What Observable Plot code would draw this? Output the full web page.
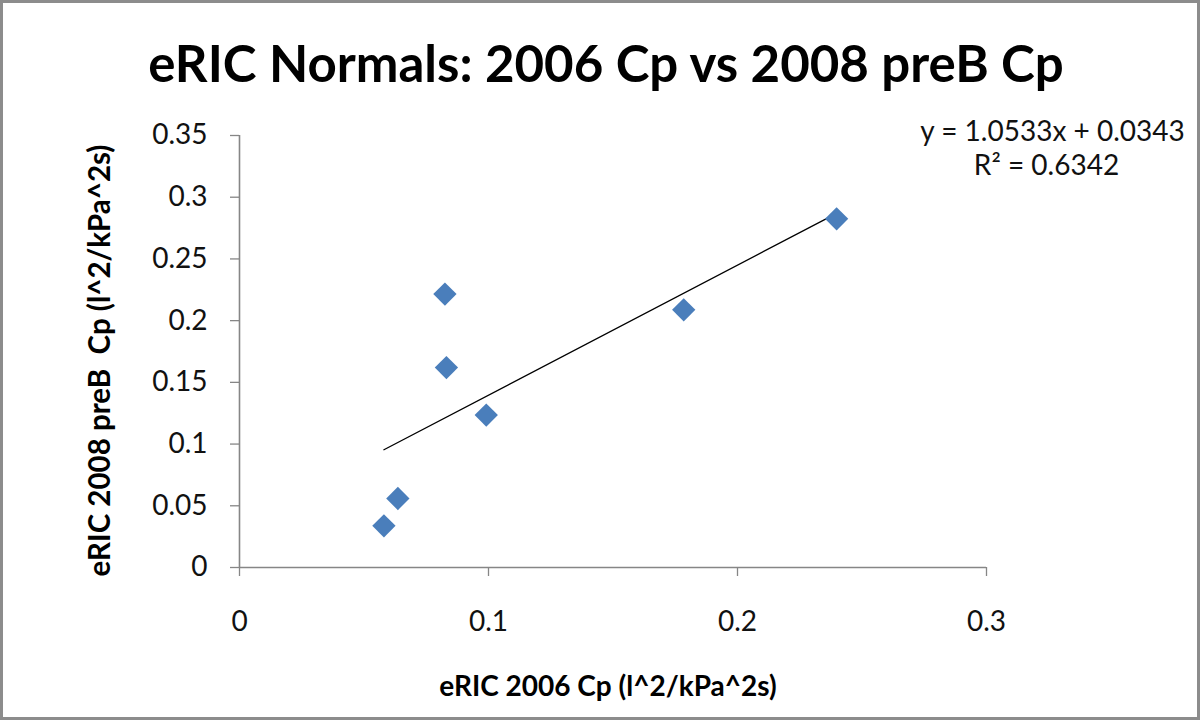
<!DOCTYPE html>
<html>
<head>
<meta charset="utf-8">
<script src="https://cdn.jsdelivr.net/npm/d3@7"></script>
<script src="https://cdn.jsdelivr.net/npm/@observablehq/plot@0.6"></script>
<style>
  html, body { margin: 0; padding: 0; background: #fff; }
  #wrap { position: relative; width: 1200px; height: 720px; overflow: hidden; }
  #border { position: absolute; left: 0; top: 0; width: 1200px; height: 720px; box-sizing: border-box; border: 3px solid #8c8c8c; pointer-events: none; }
</style>
</head>
<body>
<div id="wrap"><div id="chart"></div><div id="border"></div></div>
<script>
// ---- data ----
const cp2006 = [0.0580, 0.0636, 0.0825, 0.0831, 0.0991, 0.1784, 0.2398];
const cp2008preB = [0.0338, 0.0559, 0.2215, 0.1620, 0.1235, 0.2088, 0.2825];
const xTicks = [0, 0.1, 0.2, 0.3];
const yTicks = [0, 0.05, 0.1, 0.15, 0.2, 0.25, 0.3, 0.35];
const slope = 1.0533;
const intercept = 0.0343;
const rSquared = 0.6342;
const titleText = "eRIC Normals: 2006 Cp vs 2008 preB Cp";
const xLabel = "eRIC 2006 Cp (l^2/kPa^2s)";
const yLabel = "eRIC 2008 preB  Cp (l^2/kPa^2s)";

const points = cp2006.map((x, i) => ({x, y: cp2008preB[i]}));
const xMin = d3.min(cp2006), xMax = d3.max(cp2006);
const trend = [xMin, xMax].map(x => ({x, y: slope * x + intercept}));
const eqLine1 = `y = ${slope.toFixed(4)}x + ${intercept.toFixed(4)}`;
const eqLine2 = `R\u00B2 = ${rSquared.toFixed(4)}`;

const font = "Lato, 'Open Sans', sans-serif";
const axisGray = "#868686";

const chart = Plot.plot({
  width: 1200,
  height: 720,
  marginLeft: 239,
  marginRight: 214,
  marginTop: 135,
  marginBottom: 153,
  style: {fontFamily: font, background: "transparent", overflow: "visible"},
  x: {domain: [0, 0.3]},
  y: {domain: [0, 0.35]},
  marks: [
    Plot.axisY({ticks: yTicks, tickSize: 9, tickPadding: 23, label: null,
      tickFormat: d => String(d), stroke: axisGray, fill: "#111", fontSize: 28, strokeWidth: 1.3}),
    Plot.axisX({ticks: xTicks, tickSize: 9, tickPadding: 35, label: null,
      tickFormat: d => String(d), stroke: axisGray, fill: "#111", fontSize: 28, strokeWidth: 1.3}),
    Plot.ruleX([0], {stroke: axisGray, strokeWidth: 1.6}),
    Plot.ruleY([0], {stroke: axisGray, strokeWidth: 1.6}),
    Plot.line(trend, {x: "x", y: "y", stroke: "#000", strokeWidth: 1.3}),
    Plot.dot(points, {x: "x", y: "y", symbol: "diamond2", r: 10.5, fill: "#4A7EBB", stroke: "none"}),
    Plot.text([titleText], {frameAnchor: "top", dx: -7, dy: -70, lineAnchor: "middle",
      fontSize: 51, fontWeight: "bold", fill: "#000"}),
    Plot.text([xLabel], {frameAnchor: "bottom", dx: -5, dy: 120, lineAnchor: "middle",
      fontSize: 28, fontWeight: "bold", fill: "#000"}),
    Plot.text([yLabel], {frameAnchor: "left", textAnchor: "middle", dx: -139, dy: 9, rotate: -90, lineAnchor: "middle",
      fontSize: 29.5, fontWeight: "bold", fill: "#000"}),
    Plot.text([eqLine1], {frameAnchor: "top-right", dx: 66, dy: -3, lineAnchor: "middle", textAnchor: "middle",
      fontSize: 28, fill: "#111"}),
    Plot.text([eqLine2], {frameAnchor: "top-right", dx: 60, dy: 31, lineAnchor: "middle", textAnchor: "middle",
      fontSize: 28, fill: "#111"})
  ]
});
document.getElementById("chart").appendChild(chart);
</script>
</body>
</html>
